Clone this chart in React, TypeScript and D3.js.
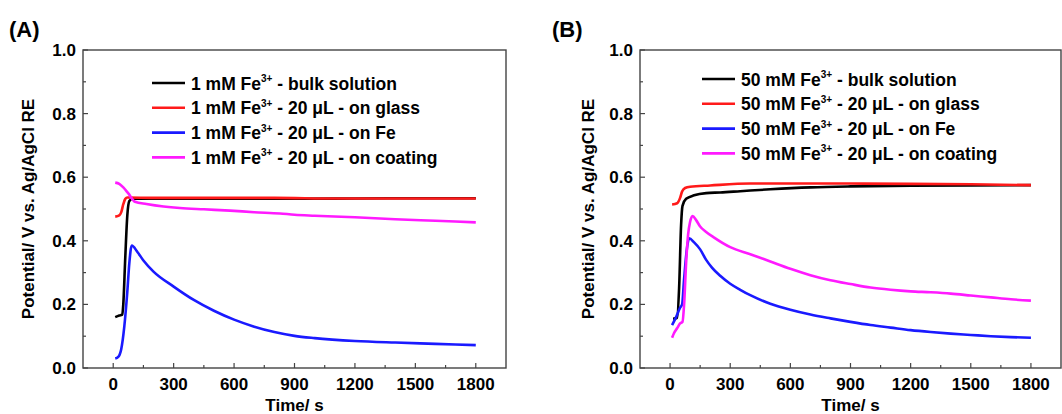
import React from "react";
import * as d3 from "d3";

type Pt = [number, number];

// Panel A (1 mM) series: [time s, potential V]
const A_BULK: Pt[] = [[10,0.160],[30,0.165],[45,0.168],[50,0.20],[60,0.35],[70,0.48],[80,0.525],[95,0.532],[300,0.532],[600,0.532],[900,0.532],[1200,0.533],[1500,0.534],[1800,0.534]];
const A_GLASS: Pt[] = [[10,0.476],[30,0.480],[40,0.49],[50,0.515],[60,0.532],[70,0.536],[200,0.535],[500,0.535],[800,0.535],[1100,0.533],[1400,0.533],[1800,0.533]];
const A_FE: Pt[] = [[10,0.030],[25,0.035],[40,0.06],[55,0.13],[70,0.24],[80,0.33],[92,0.385],[120,0.365],[150,0.338],[200,0.303],[300,0.256],[400,0.214],[500,0.180],[600,0.152],[700,0.130],[800,0.113],[900,0.101],[1000,0.094],[1200,0.085],[1400,0.080],[1600,0.076],[1800,0.072]];
const A_COAT: Pt[] = [[10,0.583],[30,0.579],[50,0.568],[75,0.549],[108,0.523],[165,0.516],[250,0.508],[331,0.503],[450,0.499],[580,0.495],[700,0.490],[828,0.486],[900,0.482],[1000,0.479],[1200,0.474],[1400,0.468],[1600,0.463],[1800,0.458]];

// Panel B (50 mM) series
const B_BULK: Pt[] = [[15,0.155],[35,0.158],[45,0.25],[55,0.45],[62,0.51],[80,0.532],[120,0.543],[180,0.550],[250,0.552],[350,0.556],[500,0.562],[700,0.568],[900,0.571],[1200,0.573],[1500,0.574],[1800,0.575]];
const B_GLASS: Pt[] = [[10,0.514],[35,0.518],[50,0.535],[60,0.555],[75,0.566],[100,0.570],[200,0.574],[400,0.580],[600,0.580],[900,0.580],[1200,0.579],[1500,0.578],[1800,0.575]];
const B_FE: Pt[] = [[10,0.135],[30,0.16],[50,0.19],[60,0.20],[70,0.28],[85,0.38],[95,0.408],[120,0.395],[150,0.373],[180,0.340],[210,0.315],[250,0.290],[300,0.265],[350,0.246],[400,0.229],[500,0.202],[600,0.183],[700,0.168],[800,0.156],[900,0.145],[1000,0.135],[1100,0.127],[1200,0.119],[1300,0.113],[1400,0.108],[1500,0.104],[1600,0.100],[1700,0.097],[1800,0.095]];
const B_COAT: Pt[] = [[10,0.095],[20,0.11],[35,0.125],[50,0.14],[62,0.145],[70,0.2],[80,0.33],[90,0.42],[100,0.46],[112,0.478],[130,0.465],[150,0.445],[180,0.428],[220,0.410],[300,0.380],[400,0.358],[500,0.335],[600,0.312],[700,0.292],[800,0.276],[900,0.264],[1000,0.253],[1100,0.246],[1200,0.241],[1300,0.238],[1400,0.234],[1500,0.228],[1600,0.222],[1700,0.216],[1800,0.212]];

const X_TICKS = [0, 300, 600, 900, 1200, 1500, 1800];
const X_MINOR = [150, 450, 750, 1050, 1350, 1650];
const Y_TICKS = [0, 0.2, 0.4, 0.6, 0.8, 1.0];
const Y_MINOR = [0.1, 0.3, 0.5, 0.7, 0.9];

const COLORS = ["#000000", "#ff1a1a", "#1a1aff", "#ff1aff"];
const SUFFIXES = [" - bulk solution", " - 20 \u03bcL - on glass", " - 20 \u03bcL - on Fe", " - 20 \u03bcL - on coating"];

const FONT = "'Liberation Sans', Arial, sans-serif";

interface PanelProps {
  left: number;
  right: number;
  label: string;
  labelX: number;
  series: Pt[][];
  conc: string;
  legX: number;
  legY: number;
  titleX: number;
}

function Panel({ left, right, label, labelX, series, conc, legX, legY, titleX }: PanelProps) {
  const top = 50, bottom = 368;
  const x = d3.scaleLinear().domain([-150, 1950]).range([left, right]);
  const y = d3.scaleLinear().domain([0, 1]).range([bottom, top]);
  const line = d3.line<Pt>().x(d => x(d[0])).y(d => y(d[1])).curve(d3.curveMonotoneX);
  const axisColor = "#444";
  return (
    <g>
      <text x={labelX} y={37} fontFamily={FONT} fontWeight="bold" fontSize={22}>{label}</text>
      {series.map((s, i) => (
        <path key={i} d={line(s) || ""} fill="none" stroke={COLORS[i]} strokeWidth={2.6} strokeLinejoin="round" />
      ))}
      <rect x={left} y={top} width={right - left} height={bottom - top} fill="none" stroke={axisColor} strokeWidth={1.4} />
      {X_TICKS.map(t => (
        <g key={t}>
          <line x1={x(t)} x2={x(t)} y1={bottom} y2={bottom - 5} stroke={axisColor} strokeWidth={1.2} />
          <text x={x(t)} y={390} textAnchor="middle" fontFamily={FONT} fontWeight="bold" fontSize={17}>{t}</text>
        </g>
      ))}
      {X_MINOR.map(t => (
        <line key={t} x1={x(t)} x2={x(t)} y1={bottom} y2={bottom - 3} stroke={axisColor} strokeWidth={1.2} />
      ))}
      {Y_TICKS.map(t => (
        <g key={t}>
          <line x1={left} x2={left + 5} y1={y(t)} y2={y(t)} stroke={axisColor} strokeWidth={1.2} />
          <text x={left - 7} y={y(t) + 6} textAnchor="end" fontFamily={FONT} fontWeight="bold" fontSize={17}>{t.toFixed(1)}</text>
        </g>
      ))}
      {Y_MINOR.map(t => (
        <line key={t} x1={left} x2={left + 3} y1={y(t)} y2={y(t)} stroke={axisColor} strokeWidth={1.2} />
      ))}
      <text x={x(900)} y={411} textAnchor="middle" fontFamily={FONT} fontWeight="bold" fontSize={17}>Time/ s</text>
      <text transform={`translate(${titleX},${(top + bottom) / 2}) rotate(-90)`} textAnchor="middle" dominantBaseline="middle" fontFamily={FONT} fontWeight="bold" fontSize={17}>Potential/ V vs. Ag/AgCl RE</text>
      {SUFFIXES.map((s, i) => {
        const yy = legY + i * 24.8;
        return (
          <g key={i}>
            <line x1={legX} x2={legX + 33} y1={yy} y2={yy} stroke={COLORS[i]} strokeWidth={2.6} />
            <text x={legX + 39} y={yy + 6.5} fontFamily={FONT} fontWeight="bold" fontSize={17.5}>
              {conc} mM Fe
              <tspan dy={-7.5} fontSize={10}>3+</tspan>
              <tspan dy={7.5}>{s}</tspan>
            </text>
          </g>
        );
      })}
    </g>
  );
}

export default function App() {
  return (
    <svg width={1062} height={414} style={{ position: "absolute", left: 0, top: 0, background: "#fff" }}>
      <rect width={1062} height={414} fill="#fff" />
      <Panel left={83} right={506} label="(A)" labelX={9} series={[A_BULK, A_GLASS, A_FE, A_COAT]} conc="1" legX={152} legY={83} titleX={30} />
      <Panel left={640} right={1061} label="(B)" labelX={552} series={[B_BULK, B_GLASS, B_FE, B_COAT]} conc="50" legX={702} legY={79} titleX={590} />
    </svg>
  );
}
